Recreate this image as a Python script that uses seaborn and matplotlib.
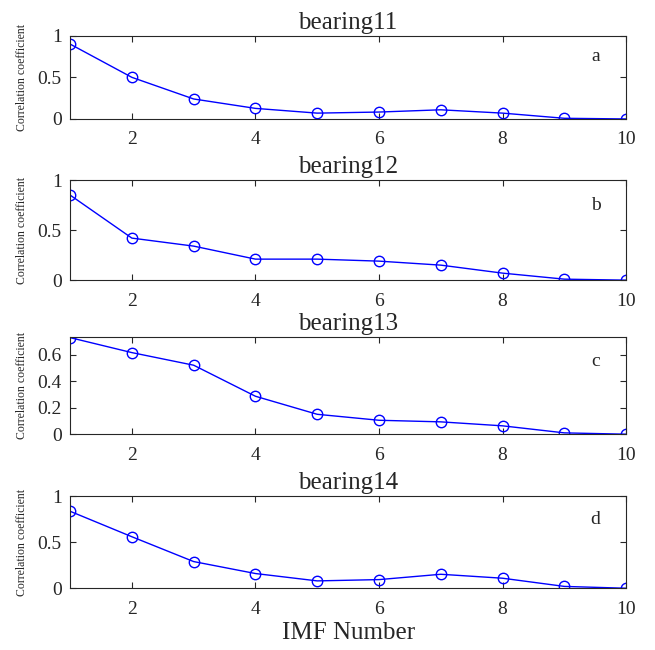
import numpy as np
import pandas as pd
import matplotlib
matplotlib.use("Agg")
import matplotlib.pyplot as plt
import seaborn as sns

sns.set_style("ticks")
plt.rcParams['font.family'] = ['Liberation Serif', 'DejaVu Serif']
plt.rcParams['xtick.direction'] = 'in'
plt.rcParams['ytick.direction'] = 'in'

# IMF 序号与各轴承的相关系数
imf = [1, 2, 3, 4, 5, 6, 7, 8, 9, 10]
bearing11 = [0.90, 0.50, 0.24, 0.127, 0.07, 0.083, 0.11, 0.07, 0.008, 0.0]
bearing12 = [0.85, 0.42, 0.34, 0.21, 0.21, 0.19, 0.15, 0.07, 0.01, 0.0]
bearing13 = [0.728, 0.615, 0.52, 0.286, 0.15, 0.105, 0.093, 0.063, 0.01, 0.0]
bearing14 = [0.837, 0.56, 0.29, 0.16, 0.08, 0.094, 0.152, 0.109, 0.02, 0.0]

titles = ["bearing11", "bearing12", "bearing13", "bearing14"]
letters = ["a", "b", "c", "d"]
series = [bearing11, bearing12, bearing13, bearing14]
yticks = [[0, 0.5, 1], [0, 0.5, 1], [0, 0.2, 0.4, 0.6], [0, 0.5, 1]]
yticklabels = [["0", "0.5", "1"], ["0", "0.5", "1"], ["0", "0.2", "0.4", "0.6"], ["0", "0.5", "1"]]
ytops = [1, 1, 0.73, 1]
xticks = [2, 4, 6, 8, 10]

# 每个子图的位置 [left, bottom, width, height]
positions = [
    [0.107, 0.817, 0.849, 0.128],
    [0.107, 0.569, 0.849, 0.154],
    [0.107, 0.332, 0.849, 0.149],
    [0.107, 0.095, 0.849, 0.1415],
]

fig = plt.figure(figsize=(6.55, 6.5), dpi=100)

for i in range(4):
    ax = fig.add_axes(positions[i])
    df = pd.DataFrame({"imf": imf, "r": series[i]})
    sns.lineplot(data=df, x="imf", y="r", ax=ax, color="blue", linewidth=1,
                 marker="o", markersize=7.5, markerfacecolor="none",
                 markeredgecolor="blue", markeredgewidth=1)
    ax.set_xlim(1, 10)
    ax.set_ylim(0, ytops[i])
    ax.set_xticks(xticks)
    ax.set_xticklabels([str(t) for t in xticks], fontsize=14, color="#262626")
    ax.set_yticks(yticks[i])
    ax.set_yticklabels(yticklabels[i], fontsize=14, color="#262626")
    ax.tick_params(top=True, right=True, length=4, width=0.8)
    ax.tick_params(axis="x", pad=9)
    ax.tick_params(axis="y", pad=6)
    for s in ax.spines.values():
        s.set_linewidth(0.8)
        s.set_color("#262626")
    ax.set_title(titles[i], fontsize=18, pad=5)
    ax.set_ylabel("Correlation coefficient", fontsize=8.5, labelpad=7)
    ax.set_xlabel("")
    ax.text(0.945, 0.75, letters[i], transform=ax.transAxes, fontsize=14,
            ha="center", va="center")

ax.set_xlabel("IMF Number", fontsize=18, labelpad=3)

plt.savefig("out.png", dpi=100)
plt.close()
